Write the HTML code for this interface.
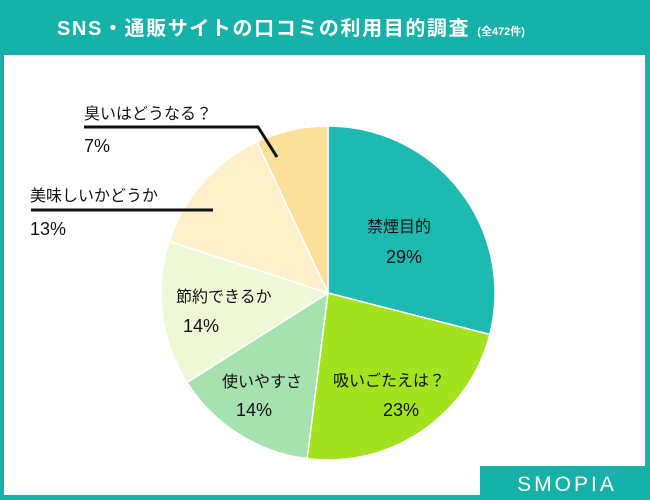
<!DOCTYPE html>
<html><head><meta charset="utf-8"><style>
body{margin:0;width:650px;height:500px;background:#16b1a8;overflow:hidden;font-family:"Liberation Sans","Noto Sans CJK JP",sans-serif}
</style></head><body>
<svg width="650" height="500" xmlns="http://www.w3.org/2000/svg" style="position:absolute;left:0;top:0">
<rect x="0" y="0" width="650" height="500" fill="#16b1a8"/>
<rect x="4" y="55" width="641" height="440" fill="#fff"/>
<text x="57" y="35" fill="#fff" font-size="20" font-weight="bold" letter-spacing="1.6" font-family="Liberation Sans,Noto Sans CJK JP,sans-serif">SNS・通販サイトの口コミの利用目的調査 <tspan font-size="11" letter-spacing="0">(全472件)</tspan></text>
<g stroke="#fff" stroke-width="1.5">
<path d="M328,293 L328,126 A167,167 0 0 1 489.8,334.5 Z" fill="#1dbab2"/>
<path d="M328,293 L489.8,334.5 A167,167 0 0 1 307.1,458.7 Z" fill="#a2e21e"/>
<path d="M328,293 L307.1,458.7 A167,167 0 0 1 187,382.5 Z" fill="#a6e2b0"/>
<path d="M328,293 L187,382.5 A167,167 0 0 1 169.2,241.4 Z" fill="#eef8d6"/>
<path d="M328,293 L169.2,241.4 A167,167 0 0 1 256.9,141.9 Z" fill="#fff0cc"/>
<path d="M328,293 L256.9,141.9 A167,167 0 0 1 328,126 Z" fill="#fddf9c"/>
</g>
<g fill="#111" font-family="Liberation Sans,Noto Sans CJK JP,sans-serif" font-size="16">
<text x="367" y="232">禁煙目的</text>
<text x="386" y="263" font-size="18">29%</text>
<text x="333" y="386">吸いごたえは？</text>
<text x="383" y="416" font-size="18">23%</text>
<text x="222" y="387">使いやすさ</text>
<text x="236" y="416" font-size="18">14%</text>
<text x="176" y="302">節約できるか</text>
<text x="183" y="332" font-size="18">14%</text>
<text x="30" y="201">美味しいかどうか</text>
<text x="30" y="235" font-size="18">13%</text>
<text x="84" y="119">臭いはどうなる？</text>
<text x="84" y="152" font-size="18">7%</text>
</g>
<path d="M31,210 H213" stroke="#111" stroke-width="3"/>
<path d="M84,127 H258 L277,157" stroke="#111" stroke-width="3" fill="none"/>
<rect x="480" y="466" width="170" height="34" fill="#16b1a8"/>
<text x="567" y="491" text-anchor="middle" fill="#fff" font-size="21" letter-spacing="3" font-family="Liberation Sans,sans-serif">SMOPIA</text>
</svg>
</body></html>
